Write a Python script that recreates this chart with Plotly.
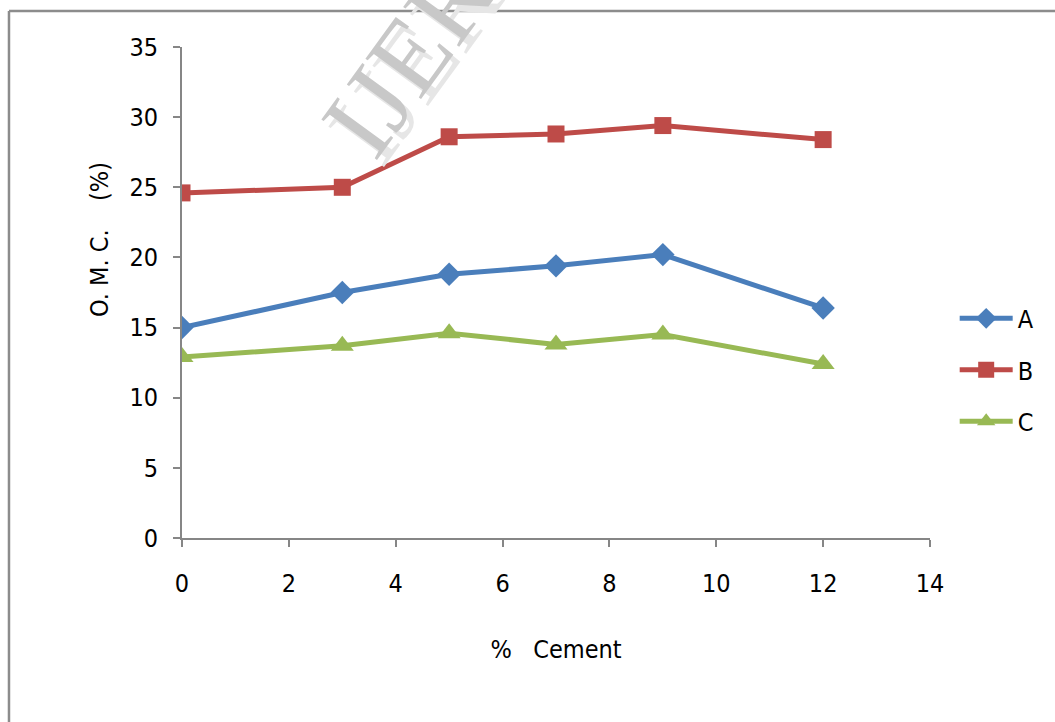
import plotly.graph_objects as go

# % cement content
cement = [0, 3, 5, 7, 9, 12]

# Optimum moisture content (%) for each soil
omc_a = [15.0, 17.5, 18.8, 19.4, 20.2, 16.4]
omc_b = [24.6, 25.0, 28.6, 28.8, 29.4, 28.4]
omc_c = [12.9, 13.7, 14.6, 13.8, 14.5, 12.4]

series_names = ["A", "B", "C"]
series_values = [omc_a, omc_b, omc_c]
series_colors = ["#4A7EBB", "#BE4B48", "#98B954"]
series_symbols = ["diamond", "square", "triangle-up"]
series_sizes = [18, 17, 20]

x_ticks = [0, 2, 4, 6, 8, 10, 12, 14]
y_ticks = [0, 5, 10, 15, 20, 25, 30, 35]

FONT = "Liberation Sans Narrow, DejaVu Sans Condensed, Arial Narrow, sans-serif"

fig = go.Figure()
for i, (name, vals) in enumerate(zip(series_names, series_values)):
    fig.add_trace(go.Scatter(
        x=cement, y=vals, name=name, mode="lines+markers",
        legendgroup=name,
        line=dict(color=series_colors[i], width=5),
        marker=dict(symbol=series_symbols[i], size=series_sizes[i],
                    color=series_colors[i],
                    line=dict(width=0)),
    ))

axis_col = "#868686"

fig.update_layout(
    width=1055, height=722,
    margin=dict(l=182, r=125, t=47, b=184),
    paper_bgcolor="white", plot_bgcolor="white",
    font=dict(family=FONT, size=25, color="black"),
    showlegend=True,
    legend=dict(x=1.033, y=0.342, xanchor="left", yanchor="middle",
                traceorder="grouped", tracegroupgap=16,
                font=dict(family=FONT, size=25, color="black"),
                itemwidth=53, bgcolor="rgba(0,0,0,0)"),
    xaxis=dict(range=[0, 14], tickvals=x_ticks, showgrid=False, zeroline=False,
               showline=True, linecolor=axis_col, linewidth=2,
               ticks="outside", ticklen=7, tickcolor=axis_col, tickwidth=2,
               ticklabelstandoff=15,
               title=dict(text="%   Cement", standoff=43,
                          font=dict(family=FONT, size=25))),
    yaxis=dict(range=[0, 35], tickvals=y_ticks, showgrid=False, zeroline=False,
               showline=True, linecolor=axis_col, linewidth=2,
               ticks="outside", ticklen=7, tickcolor=axis_col, tickwidth=2,
               ticklabelstandoff=10),
)

# y-axis title, placed above the plot's vertical centre
fig.add_annotation(xref="paper", yref="paper", x=-0.1096, y=0.607,
                   text="O. M. C.    (%)", showarrow=False, textangle=-90,
                   xanchor="center", yanchor="middle",
                   font=dict(family=FONT, size=25, color="black"))

# chart frame (left and top edges)
fig.add_shape(type="line", xref="paper", yref="paper",
              x0=-0.2313, x1=-0.2313, y0=1.0733, y1=-0.40,
              line=dict(color="#8C8C8C", width=2.5))
fig.add_shape(type="line", xref="paper", yref="paper",
              x0=-0.2313, x1=1.25, y0=1.0733, y1=1.0733,
              line=dict(color="#8C8C8C", width=2.5))

# journal watermark: soft echo, then the main lettering
wm_font = "Liberation Serif, DejaVu Serif, serif"
wm_x, wm_y = 0.325, 1.027
fig.add_annotation(xref="paper", yref="paper", x=wm_x, y=wm_y,
                   xshift=7, yshift=-7,
                   text="IJERT", showarrow=False, textangle=-54,
                   xanchor="center", yanchor="middle",
                   font=dict(family=wm_font, size=105, color="#E6E6E6"))
fig.add_annotation(xref="paper", yref="paper", x=wm_x, y=wm_y,
                   text="IJERT", showarrow=False, textangle=-54,
                   xanchor="center", yanchor="middle",
                   font=dict(family=wm_font, size=105, color="#C8C8C8"))

fig.write_html("out.html")
